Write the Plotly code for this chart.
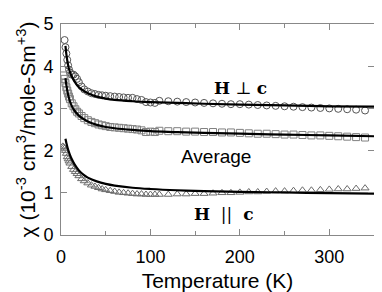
import plotly.graph_objects as go

# H perpendicular c (circles)
T_perp = [4, 5, 6, 7, 8, 9, 10, 12, 14, 16, 18, 20, 23, 26, 30, 34, 38, 42, 46, 50,
          55, 60, 65, 70, 75, 80, 85, 90, 95, 100, 105, 110, 120, 130, 140, 150, 160,
          170, 180, 190, 200, 210, 220, 230, 240, 250, 260, 270, 280, 290, 300, 310,
          320, 330, 340]
chi_perp = [4.62, 4.45, 4.3, 4.15, 4.02, 3.92, 3.85, 3.8, 3.8, 3.76, 3.7, 3.62, 3.52,
            3.45, 3.4, 3.36, 3.34, 3.32, 3.31, 3.3, 3.29, 3.28, 3.27, 3.26, 3.25, 3.25,
            3.22, 3.2, 3.15, 3.14, 3.13, 3.18, 3.17, 3.16, 3.15, 3.14, 3.13, 3.12, 3.11,
            3.1, 3.1, 3.09, 3.08, 3.07, 3.06, 3.05, 3.04, 3.03, 3.02, 3.01, 3.0, 2.99,
            2.98, 2.97, 2.95]

# Average (squares)
T_avg = [3, 4, 5, 6, 7, 8, 9, 10, 12, 14, 16, 18, 20, 23, 26, 30, 34, 38, 42, 46, 50,
         55, 60, 65, 70, 75, 80, 85, 90, 95, 100, 105, 110, 120, 130, 140, 150, 160,
         170, 180, 190, 200, 210, 220, 230, 240, 250, 260, 270, 280, 290, 300, 310,
         320, 330, 340]
chi_avg = [3.78, 3.7, 3.6, 3.5, 3.42, 3.35, 3.28, 3.22, 3.12, 3.05, 2.98, 2.92, 2.88,
           2.82, 2.77, 2.72, 2.68, 2.65, 2.62, 2.6, 2.58, 2.56, 2.55, 2.54, 2.53, 2.52,
           2.51, 2.5, 2.48, 2.44, 2.45, 2.44, 2.47, 2.46, 2.46, 2.45, 2.45, 2.44, 2.44,
           2.43, 2.43, 2.42, 2.41, 2.4, 2.4, 2.39, 2.38, 2.38, 2.37, 2.36, 2.36, 2.35,
           2.34, 2.33, 2.32, 2.31]

# H parallel c (triangles)
T_par = [2, 3, 4, 5, 6, 7, 8, 9, 10, 12, 14, 16, 18, 20, 23, 26, 30, 34, 38, 42, 46,
         50, 55, 60, 65, 70, 75, 80, 85, 90, 95, 100, 105, 110, 120, 130, 140, 150,
         160, 170, 180, 190, 200, 210, 220, 230, 240, 250, 260, 270, 280, 290, 300,
         310, 320, 330, 340]
chi_par = [2.1, 2.08, 2.05, 2.0, 1.93, 1.85, 1.8, 1.75, 1.7, 1.62, 1.55, 1.5, 1.45,
           1.4, 1.33, 1.28, 1.23, 1.18, 1.15, 1.12, 1.09, 1.07, 1.05, 1.03, 1.01, 1.0,
           0.99, 0.98, 0.97, 0.97, 0.96, 0.96, 0.96, 0.96, 0.96, 0.97, 0.97, 0.98, 0.98,
           0.99, 1.0, 1.0, 1.01, 1.02, 1.02, 1.03, 1.04, 1.04, 1.05, 1.06, 1.06, 1.07,
           1.08, 1.09, 1.09, 1.1, 1.11]

# Fit curves
T_fit = [5, 6, 8, 10, 12, 15, 20, 25, 30, 40, 50, 60, 80, 100, 130, 160, 200, 250, 300, 350]
fit_perp = [4.48, 4.28, 4.02, 3.86, 3.76, 3.64, 3.5, 3.42, 3.36, 3.28, 3.23, 3.2, 3.17,
            3.15, 3.13, 3.11, 3.09, 3.07, 3.05, 3.04]
fit_avg = [3.72, 3.55, 3.32, 3.17, 3.06, 2.95, 2.83, 2.75, 2.69, 2.61, 2.56, 2.53, 2.49,
           2.46, 2.44, 2.42, 2.4, 2.38, 2.36, 2.34]
fit_par = [2.28, 2.18, 2.02, 1.9, 1.8, 1.68, 1.53, 1.43, 1.36, 1.27, 1.21, 1.17, 1.12,
           1.09, 1.06, 1.04, 1.02, 1.01, 0.99, 0.98]

SANS = "Liberation Sans, Arial, sans-serif"

fig = go.Figure()

def add_markers(x, y, symbol, color):
    fig.add_trace(go.Scatter(x=x, y=y, mode="markers",
                             marker=dict(symbol=symbol, size=7, color=color,
                                         line=dict(color=color, width=1)),
                             showlegend=False))

add_markers(T_perp, chi_perp, "circle-open", "#555555")
add_markers(T_avg, chi_avg, "square-open", "#808080")
add_markers(T_par, chi_par, "triangle-up-open", "#6a6a6a")

for fy in (fit_perp, fit_avg, fit_par):
    fig.add_trace(go.Scatter(x=T_fit, y=fy, mode="lines",
                             line=dict(color="black", width=2.2, shape="spline"),
                             showlegend=False))

axis_common = dict(showline=True, linecolor="#888888", linewidth=1, mirror="ticks",
                   ticks="inside", tickcolor="#888888", ticklen=6, showgrid=False, zeroline=False,
                   tickfont=dict(family=SANS, size=18, color="black"))

fig.update_xaxes(range=[0, 350], tickvals=[0, 100, 200, 300], ticklabelstandoff=5,
                 minor=dict(ticks="inside", ticklen=4, tickcolor="#888888", tickvals=[50, 150, 250]),
                 title=dict(text="Temperature (K)", font=dict(family=SANS, size=21, color="black"), standoff=8),
                 **axis_common)
fig.update_yaxes(range=[0, 5], tickvals=[0, 1, 2, 3, 4, 5], ticklabelstandoff=3,
                 title=dict(text="χ (10<sup>-3</sup> cm<sup>3</sup>/mole-Sm<sup>+3</sup>)",
                            font=dict(family=SANS, size=21, color="black"), standoff=2),
                 **axis_common)

fig.add_annotation(x=201, y=3.48, text="<b>H</b> ⊥ <b>c</b>", showarrow=False,
                   font=dict(family="DejaVu Serif, serif", size=17, color="black"))
fig.add_annotation(x=173, y=1.85, text="Average", showarrow=False,
                   font=dict(family=SANS, size=19, color="black"))
fig.add_annotation(x=182, y=0.49, text="<b>H</b>  ||  <b>c</b>", showarrow=False,
                   font=dict(family="DejaVu Serif, serif", size=17, color="black"))

fig.update_layout(width=374, height=284, margin=dict(l=53, r=8, t=16, b=57, autoexpand=False),
                  plot_bgcolor="white", paper_bgcolor="white")

fig.write_html("out.html")
